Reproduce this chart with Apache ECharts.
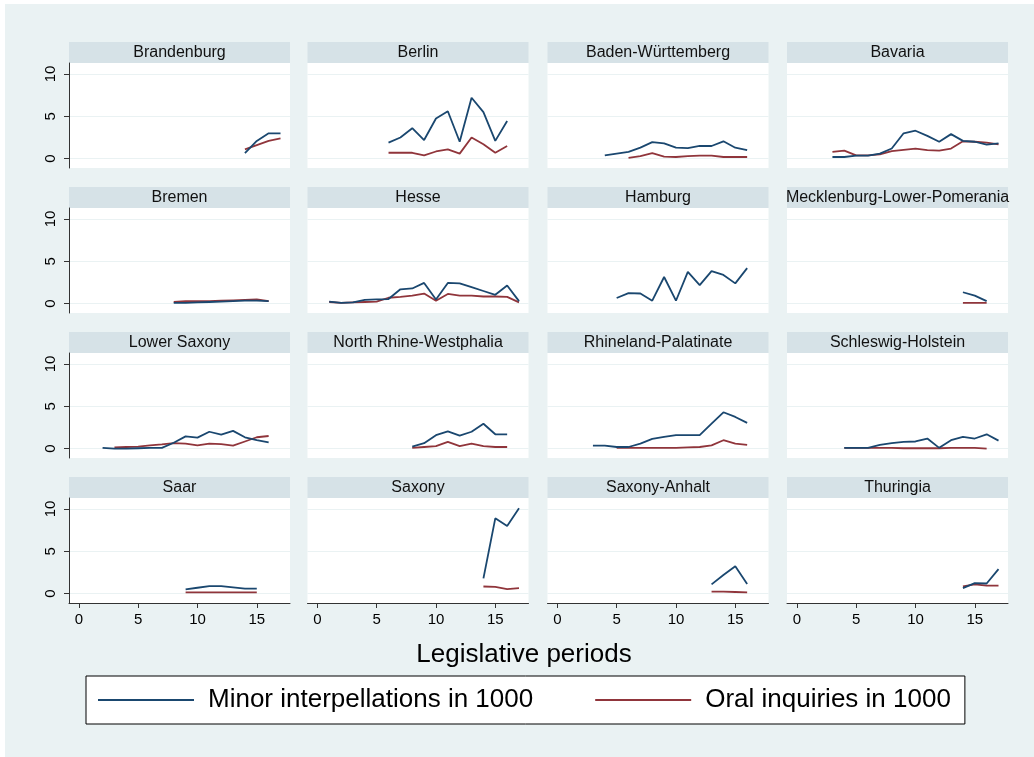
<!DOCTYPE html>
<html>
<head>
<meta charset="utf-8">
<script src="https://cdn.jsdelivr.net/npm/echarts@6/dist/echarts.min.js"></script>
<style>
html,body{margin:0;padding:0;background:#ffffff;}
#main{position:absolute;left:5px;top:4px;width:1029px;height:753px;}
</style>
</head>
<body>
<div id="main"></div>
<script>
// ---- data (legislative period, value in 1000) ----
const states = ['Brandenburg','Berlin','Baden-Württemberg','Bavaria',
  'Bremen','Hesse','Hamburg','Mecklenburg-Lower-Pomerania',
  'Lower Saxony','North Rhine-Westphalia','Rhineland-Palatinate','Schleswig-Holstein',
  'Saar','Saxony','Saxony-Anhalt','Thuringia'];
const seriesNames = ['Minor interpellations in 1000','Oral inquiries in 1000'];
const xTicks = [0,5,10,15];
const yTicks = [0,5,10];

const minorBrandenburg = [[14,0.65],[15,2.1],[16,3.0],[17,3.0]];
const oralBrandenburg  = [[14,1.1],[15,1.6],[16,2.1],[17,2.4]];
const minorBerlin = [[6,1.9],[7,2.5],[8,3.6],[9,2.2],[10,4.75],[11,5.6],[12,2.0],[13,7.2],[14,5.5],[15,2.1],[16,4.45]];
const oralBerlin  = [[6,0.7],[7,0.7],[8,0.7],[9,0.4],[10,0.85],[11,1.1],[12,0.6],[13,2.5],[14,1.7],[15,0.7],[16,1.5]];
const minorBadenWuerttemberg = [[4,0.4],[5,0.6],[6,0.8],[7,1.3],[8,1.95],[9,1.8],[10,1.3],[11,1.25],[12,1.5],[13,1.5],[14,2.05],[15,1.3],[16,1.0]];
const oralBadenWuerttemberg  = [[6,0.1],[7,0.3],[8,0.65],[9,0.25],[10,0.2],[11,0.3],[12,0.35],[13,0.35],[14,0.2],[15,0.2],[16,0.2]];
const minorBavaria = [[3,0.2],[4,0.2],[5,0.35],[6,0.35],[7,0.6],[8,1.2],[9,3.0],[10,3.3],[11,2.7],[12,2.0],[13,2.9],[14,2.1],[15,2.0],[16,1.65],[17,1.8]];
const oralBavaria  = [[3,0.8],[4,0.95],[5,0.4],[6,0.4],[7,0.5],[8,0.9],[9,1.05],[10,1.2],[11,1.0],[12,0.95],[13,1.2],[14,2.05],[15,2.0],[16,1.9],[17,1.7]];
const minorBremen = [[8,0.1],[9,0.1],[10,0.15],[11,0.2],[12,0.25],[13,0.3],[14,0.35],[15,0.35],[16,0.3]];
const oralBremen  = [[8,0.2],[9,0.3],[10,0.3],[11,0.3],[12,0.35],[13,0.4],[14,0.45],[15,0.5],[16,0.3]];
const minorHesse = [[1,0.25],[2,0.1],[3,0.15],[4,0.45],[5,0.5],[6,0.55],[7,1.7],[8,1.8],[9,2.45],[10,0.5],[11,2.45],[12,2.4],[13,1.95],[14,1.5],[15,1.05],[16,2.15],[17,0.3]];
const oralHesse  = [[1,0.2],[2,0.1],[3,0.15],[4,0.2],[5,0.25],[6,0.7],[7,0.8],[8,0.95],[9,1.2],[10,0.35],[11,1.15],[12,0.95],[13,0.95],[14,0.85],[15,0.85],[16,0.8],[17,0.15]];
const minorHamburg = [[5,0.67],[6,1.25],[7,1.2],[8,0.35],[9,3.15],[10,0.35],[11,3.75],[12,2.2],[13,3.85],[14,3.4],[15,2.4],[16,4.2]];
const oralHamburg  = [];
const minorMecklenburg = [[14,1.35],[15,0.95],[16,0.3]];
const oralMecklenburg  = [[14,0.1],[15,0.1],[16,0.1]];
const minorLowerSaxony = [[2,0.1],[3,0.0],[4,0.0],[5,0.05],[6,0.1],[7,0.1],[8,0.7],[9,1.45],[10,1.3],[11,2.0],[12,1.65],[13,2.1],[14,1.35],[15,1.0],[16,0.75]];
const oralLowerSaxony  = [[3,0.15],[4,0.2],[5,0.25],[6,0.4],[7,0.5],[8,0.65],[9,0.6],[10,0.4],[11,0.6],[12,0.55],[13,0.35],[14,0.85],[15,1.35],[16,1.5]];
const minorNRW = [[8,0.25],[9,0.65],[10,1.6],[11,2.05],[12,1.55],[13,2.0],[14,2.95],[15,1.7],[16,1.7]];
const oralNRW  = [[8,0.1],[9,0.2],[10,0.3],[11,0.8],[12,0.3],[13,0.6],[14,0.3],[15,0.2],[16,0.2]];
const minorRhinelandPalatinate = [[3,0.35],[4,0.35],[5,0.2],[6,0.2],[7,0.6],[8,1.15],[9,1.4],[10,1.6],[11,1.6],[12,1.6],[13,2.95],[14,4.3],[15,3.75],[16,3.05]];
const oralRhinelandPalatinate  = [[5,0.1],[6,0.1],[7,0.1],[8,0.1],[9,0.1],[10,0.1],[11,0.15],[12,0.2],[13,0.4],[14,1.0],[15,0.6],[16,0.45]];
const minorSchleswigHolstein = [[4,0.1],[5,0.1],[6,0.1],[7,0.45],[8,0.65],[9,0.8],[10,0.85],[11,1.2],[12,0.1],[13,1.0],[14,1.4],[15,1.2],[16,1.7],[17,0.95]];
const oralSchleswigHolstein  = [[4,0.1],[5,0.1],[6,0.1],[7,0.1],[8,0.1],[9,0.05],[10,0.05],[11,0.05],[12,0.05],[13,0.1],[14,0.1],[15,0.1],[16,0.0]];
const minorSaar = [[9,0.5],[10,0.7],[11,0.9],[12,0.9],[13,0.75],[14,0.6],[15,0.6]];
const oralSaar  = [[9,0.15],[10,0.15],[11,0.15],[12,0.15],[13,0.15],[14,0.15],[15,0.15]];
const minorSaxony = [[14,1.8],[15,8.9],[16,8.0],[17,10.1]];
const oralSaxony  = [[14,0.85],[15,0.8],[16,0.55],[17,0.65]];
const minorSaxonyAnhalt = [[13,1.1],[14,2.2],[15,3.25],[16,1.15]];
const oralSaxonyAnhalt  = [[13,0.25],[14,0.25],[15,0.2],[16,0.15]];
const minorThuringia = [[14,0.65],[15,1.25],[16,1.2],[17,2.9]];
const oralThuringia  = [[14,0.85],[15,1.1],[16,0.95],[17,0.95]];

const minorData = [minorBrandenburg,minorBerlin,minorBadenWuerttemberg,minorBavaria,
  minorBremen,minorHesse,minorHamburg,minorMecklenburg,
  minorLowerSaxony,minorNRW,minorRhinelandPalatinate,minorSchleswigHolstein,
  minorSaar,minorSaxony,minorSaxonyAnhalt,minorThuringia];
const oralData = [oralBrandenburg,oralBerlin,oralBadenWuerttemberg,oralBavaria,
  oralBremen,oralHesse,oralHamburg,oralMecklenburg,
  oralLowerSaxony,oralNRW,oralRhinelandPalatinate,oralSchleswigHolstein,
  oralSaar,oralSaxony,oralSaxonyAnhalt,oralThuringia];

// ---- layout ----
const colLeft = [64, 302.5, 542.5, 782];
const rowTop = [38, 183, 328, 473];
const headerH = 21, plotW = 221, plotH = 105;
const FONT = 'Liberation Sans, Arial, sans-serif';
const BLUE = '#1a476f', RED = '#90353b';

const grids = [], xAxes = [], yAxes = [], series = [], graphics = [];
states.forEach((name, i) => {
  const r = Math.floor(i / 4), c = i % 4;
  const left = colLeft[c], top = rowTop[r] + headerH;
  grids.push({left: left, top: top, width: plotW, height: plotH, show: true,
    backgroundColor: '#ffffff', borderWidth: 0, containLabel: false});
  const bottomRow = r === 3, leftCol = c === 0;
  xAxes.push({type: 'value', gridIndex: i, min: -0.83, max: 17.8,
    axisLine: {show: bottomRow, onZero: false, lineStyle: {color: '#333', width: 1}},
    axisTick: {show: bottomRow, length: 5, customValues: xTicks, lineStyle: {color: '#333'}},
    axisLabel: {show: bottomRow, customValues: xTicks, margin: 9, fontSize: 15, color: '#000', fontFamily: FONT},
    splitLine: {show: false}});
  yAxes.push({type: 'value', gridIndex: i, min: -1.1, max: 11.3,
    axisLine: {show: leftCol, onZero: false, lineStyle: {color: '#333', width: 1}},
    axisTick: {show: leftCol, length: 5, customValues: yTicks, lineStyle: {color: '#333'}},
    axisLabel: {show: leftCol, customValues: yTicks, rotate: 90, margin: 11, fontSize: 15, color: '#000', fontFamily: FONT},
    splitLine: {show: true, lineStyle: {color: '#eaf2f3', width: 1.2}}});
  series.push({name: seriesNames[1], type: 'line', xAxisIndex: i, yAxisIndex: i,
    data: oralData[i], symbol: 'none', lineStyle: {color: RED, width: 1.8}, itemStyle: {color: RED}, z: 2});
  series.push({name: seriesNames[0], type: 'line', xAxisIndex: i, yAxisIndex: i,
    data: minorData[i], symbol: 'none', lineStyle: {color: BLUE, width: 1.8}, itemStyle: {color: BLUE}, z: 3});
  graphics.push({type: 'rect', shape: {x: left, y: rowTop[r], width: plotW, height: headerH},
    style: {fill: '#d6e2e7'}, silent: true});
  graphics.push({type: 'text', x: left + plotW / 2, y: rowTop[r] + headerH / 2 + 0.5,
    style: {text: name, fontSize: 16, fontFamily: FONT, fill: '#111',
      align: 'center', verticalAlign: 'middle', textAlign: 'center', textVerticalAlign: 'middle'},
    silent: true});
});

const chart = echarts.init(document.getElementById('main'), null, {renderer: 'canvas'});
chart.setOption({
  animation: false,
  backgroundColor: '#eaf2f3',
  title: {text: 'Legislative periods', left: 519, top: 638, textAlign: 'center', padding: 0,
    textStyle: {fontSize: 26, fontWeight: 'normal', color: '#000', fontFamily: FONT}},
  legend: {data: seriesNames, left: 81, top: 672, orient: 'horizontal',
    padding: [11, 14, 11, 11], itemGap: 61, itemWidth: 96, itemHeight: 14,
    backgroundColor: '#ffffff', borderColor: '#000', borderWidth: 1, borderRadius: 0,
    itemStyle: {color: 'rgba(0,0,0,0)', borderWidth: 0, opacity: 0},
    lineStyle: {width: 2},
    textStyle: {fontSize: 26, color: '#000', fontFamily: FONT, padding: [0, 0, 0, 9]},
    selectedMode: false},
  grid: grids, xAxis: xAxes, yAxis: yAxes, series: series,
  graphic: {elements: graphics}
});
</script>
</body>
</html>
